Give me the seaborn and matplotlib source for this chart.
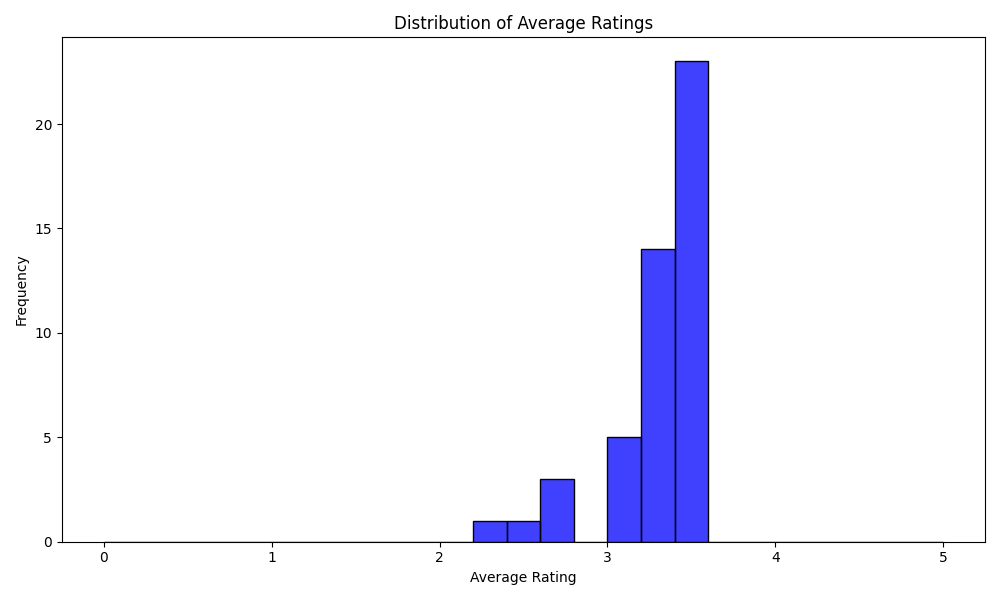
import numpy as np
import pandas as pd
import matplotlib
matplotlib.use("Agg")
import matplotlib.pyplot as plt
import seaborn as sns

# histogram: 25 bins of width 0.2 between 0 and 5
bin_left = [0.0, 0.2, 0.4, 0.6, 0.8, 1.0, 1.2, 1.4, 1.6, 1.8,
            2.0, 2.2, 2.4, 2.6, 2.8, 3.0, 3.2, 3.4, 3.6, 3.8,
            4.0, 4.2, 4.4, 4.6, 4.8]
counts = [0, 0, 0, 0, 0, 0, 0, 0, 0, 0,
          0, 1, 1, 3, 0, 5, 14, 23, 0, 0,
          0, 0, 0, 0, 0]

df = pd.DataFrame({"rating": np.array(bin_left) + 0.1, "n": counts})

plt.figure(figsize=(10, 6))
ax = sns.histplot(data=df, x="rating", weights="n", bins=25, binrange=(0, 5),
                  color="blue", edgecolor="black")
ax.set_title("Distribution of Average Ratings")
ax.set_xlabel("Average Rating")
ax.set_ylabel("Frequency")
plt.tight_layout()
plt.savefig("out.png", dpi=100)
